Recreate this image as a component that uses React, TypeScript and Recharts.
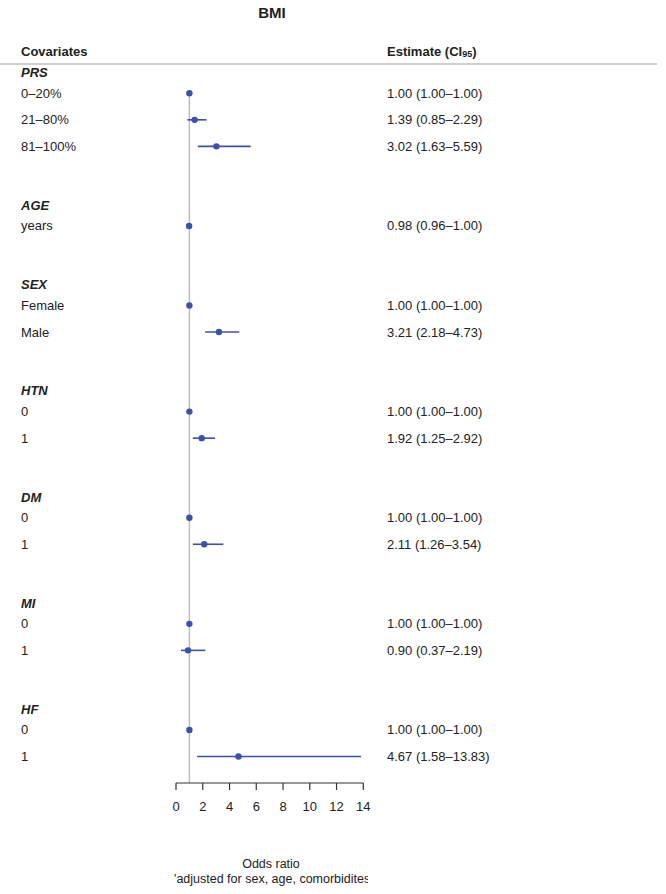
import React from 'react';
import { ScatterChart, Scatter, XAxis, YAxis, ErrorBar, ReferenceLine } from 'recharts';

const groups = ['PRS', 'AGE', 'SEX', 'HTN', 'DM', 'MI', 'HF'];
const groupSizes = [3, 1, 2, 2, 2, 2, 2];
const rowLabels = ['0–20%', '21–80%', '81–100%', 'years', 'Female', 'Male', '0', '1', '0', '1', '0', '1', '0', '1'];
const estimates = [1.0, 1.39, 3.02, 0.98, 1.0, 3.21, 1.0, 1.92, 1.0, 2.11, 1.0, 0.9, 1.0, 4.67];
const lower = [1.0, 0.85, 1.63, 0.96, 1.0, 2.18, 1.0, 1.25, 1.0, 1.26, 1.0, 0.37, 1.0, 1.58];
const upper = [1.0, 2.29, 5.59, 1.0, 1.0, 4.73, 1.0, 2.92, 1.0, 3.54, 1.0, 2.19, 1.0, 13.83];
const xTicks = [0, 2, 4, 6, 8, 10, 12, 14];

const FONT = '"Liberation Sans", Arial, Helvetica, sans-serif';
const TEXT = '#222';
const BLUE = '#3D51AC';

// Build layout rows (row index = position in the table)
const rows: any[] = [];
const headers: any[] = [];
{
  let idx = 0;
  let k = 0;
  groups.forEach((g, gi) => {
    headers.push({ name: g, x: 1, y: idx });
    for (let j = 0; j < groupSizes[gi]; j++) {
      rows.push({
        label: rowLabels[k],
        x: estimates[k],
        y: idx,
        err: [estimates[k] - lower[k], upper[k] - estimates[k]],
        text: `${estimates[k].toFixed(2)} (${lower[k].toFixed(2)}–${upper[k].toFixed(2)})`,
      });
      idx++;
      k++;
    }
    idx += 2;
  });
}

const LabelShape = (props: any) => {
  const { cy, payload } = props;
  return (
    <g>
      <text x={21} y={cy} dominantBaseline="central" fontSize={13} fill={TEXT} fontFamily={FONT}>
        {payload.label}
      </text>
      <text x={387} y={cy} dominantBaseline="central" fontSize={13} fill={TEXT} fontFamily={FONT}>
        {payload.text}
      </text>
    </g>
  );
};

const HeaderShape = (props: any) => {
  const { cy, payload } = props;
  return (
    <text
      x={21}
      y={cy - 20.7}
      dominantBaseline="central"
      fontSize={13}
      fontWeight="bold"
      fontStyle="italic"
      fill={TEXT}
      fontFamily={FONT}
    >
      {payload.name}
    </text>
  );
};

const DotShape = (props: any) => {
  const { cx, cy } = props;
  return <circle cx={cx} cy={cy} r={3.2} fill={BLUE} />;
};

export default function App() {
  return (
    <div style={{ position: 'absolute', left: 0, top: 0, width: 666, height: 894, fontFamily: FONT, background: '#fff' }}>
      <ScatterChart
        width={666}
        height={894}
        margin={{ top: 93.3, right: 302.7, bottom: 81, left: 176 }}
        style={{ fontFamily: FONT }}
      >
        <XAxis
          type="number"
          dataKey="x"
          domain={[0, 14]}
          ticks={xTicks}
          interval={0}
          height={30}
          tickSize={7}
          tickMargin={12}
          axisLine={{ stroke: '#333', strokeWidth: 1.2 }}
          tickLine={{ stroke: '#333', strokeWidth: 1.2 }}
          tick={{ fill: TEXT, fontSize: 13, fontFamily: FONT }}
        />
        <YAxis type="number" dataKey="y" domain={[0, 26]} reversed hide width={0} />
        <ReferenceLine x={1} stroke="#bdbdbd" strokeWidth={1.5} />
        <Scatter data={headers} shape={HeaderShape} isAnimationActive={false} />
        <Scatter data={rows} shape={LabelShape} isAnimationActive={false} />
        <Scatter data={rows} shape={DotShape} isAnimationActive={false}>
          <ErrorBar dataKey="err" direction="x" width={0} stroke={BLUE} strokeWidth={1.6} />
        </Scatter>
      </ScatterChart>
      <svg
        width={666}
        height={894}
        style={{ position: 'absolute', left: 0, top: 0, pointerEvents: 'none' }}
      >
        <defs>
          <clipPath id="footClip">
            <rect x={170} y={869} width={198} height={25} />
          </clipPath>
        </defs>
        <text x={272} y={12} textAnchor="middle" dominantBaseline="central" fontSize={15} fontWeight="bold" fill={TEXT} fontFamily={FONT}>
          BMI
        </text>
        <text x={21} y={51} dominantBaseline="central" fontSize={13} fontWeight="bold" fill={TEXT} fontFamily={FONT}>
          Covariates
        </text>
        <text x={387} y={51} dominantBaseline="central" fontSize={13} fontWeight="bold" fill={TEXT} fontFamily={FONT}>
          <tspan>Estimate (CI</tspan>
          <tspan fontSize={9} dy={3}>95</tspan>
          <tspan dy={-3}>)</tspan>
        </text>
        <line x1={0} x2={657} y1={64} y2={64} stroke="#cfcfcf" strokeWidth={1.8} />
        <text x={271} y={864} textAnchor="middle" dominantBaseline="central" fontSize={12.5} fill={TEXT} fontFamily={FONT}>
          Odds ratio
        </text>
        <g clipPath="url(#footClip)">
          <text x={174} y={879} dominantBaseline="central" fontSize={12.5} fill={TEXT} fontFamily={FONT}>
            'adjusted for sex, age, comorbidites
          </text>
        </g>
      </svg>
    </div>
  );
}
